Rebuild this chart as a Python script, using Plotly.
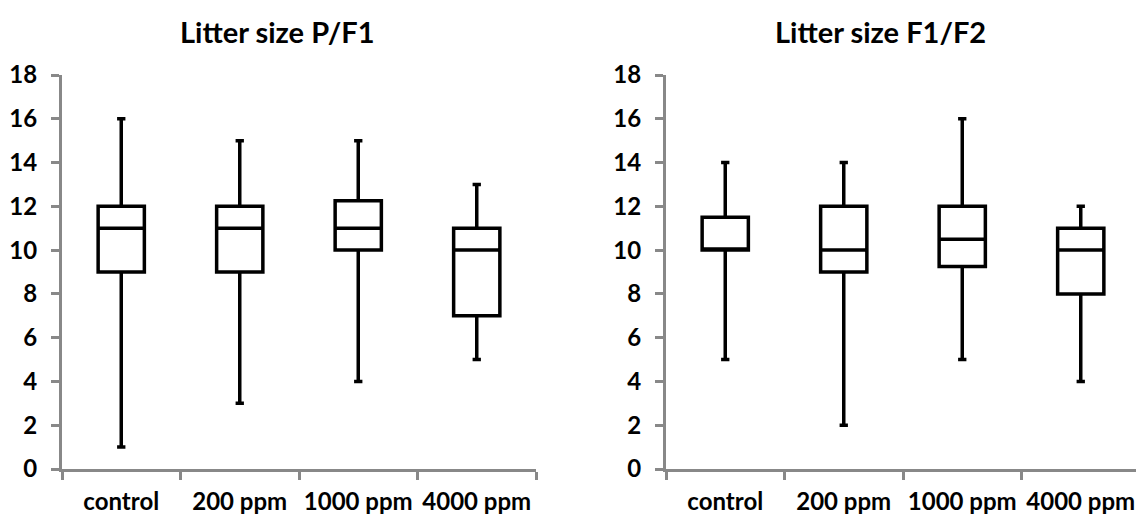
import plotly.graph_objects as go
from plotly.subplots import make_subplots

categories = ["control", "200 ppm", "1000 ppm", "4000 ppm"]

# Litter size P/F1
pf1_min = [1, 3, 4, 5]
pf1_q1 = [9, 9, 10, 7]
pf1_median = [11, 11, 11, 10]
pf1_q3 = [12, 12, 12.25, 11]
pf1_max = [16, 15, 15, 13]

# Litter size F1/F2
f1f2_min = [5, 2, 5, 4]
f1f2_q1 = [10, 9, 9.25, 8]
f1f2_median = [10, 10, 10.5, 10]
f1f2_q3 = [11.5, 12, 12, 11]
f1f2_max = [14, 14, 16, 12]

titles = ["Litter size P/F1", "Litter size F1/F2"]
y_ticks = [0, 2, 4, 6, 8, 10, 12, 14, 16, 18]

W, H = 1136, 514
T, B = 75, 45
PLOT_H = H - T - B
FONT = "Lato"
AXIS_GREY = "#888888"

fig = make_subplots(rows=1, cols=2)

for col, (lo, q1, med, q3, hi) in enumerate(
    [(pf1_min, pf1_q1, pf1_median, pf1_q3, pf1_max),
     (f1f2_min, f1f2_q1, f1f2_median, f1f2_q3, f1f2_max)], start=1):
    fig.add_trace(go.Box(
        x=categories, q1=q1, median=med, q3=q3,
        lowerfence=lo, upperfence=hi,
        width=0.39,
        line=dict(color="black", width=3.5),
        fillcolor="white",
        whiskerwidth=0.18,
        boxpoints=False,
        showlegend=False,
        hoverinfo="skip",
    ), row=1, col=col)

left_dom = [62 / W, 536 / W]
right_dom = [666 / W, 1.0]
cat_px = (536 - 62) / 4.0
right_end = -0.5 + (W - 666) / cat_px

common_x = dict(
    type="category",
    showline=True, linecolor=AXIS_GREY, linewidth=3,
    ticks="outside", tickson="boundaries", ticklen=8, tickwidth=3, tickcolor=AXIS_GREY,
    tickfont=dict(family=FONT, size=24, color="black", weight="bold"),
    tickangle=0, automargin=False,
    ticklabelstandoff=9,
    showgrid=False, zeroline=False, fixedrange=True,
)
common_y = dict(
    range=[0, 18], tickvals=y_ticks,
    showline=True, linecolor=AXIS_GREY, linewidth=3,
    ticks="outside", ticklen=8, tickwidth=3, tickcolor=AXIS_GREY,
    tickfont=dict(family=FONT, size=24, color="black", weight="bold"),
    automargin=False,
    ticklabelstandoff=9,
    showgrid=False, zeroline=False, fixedrange=True,
)

title_y = (H - B - 32) / PLOT_H

fig.update_layout(
    xaxis=dict(common_x, domain=left_dom, range=[-0.5, 3.5]),
    xaxis2=dict(common_x, domain=right_dom, range=[-0.5, right_end]),
    yaxis=dict(common_y),
    yaxis2=dict(common_y),
    width=W, height=H,
    margin=dict(l=0, r=0, t=T, b=B),
    paper_bgcolor="white", plot_bgcolor="white",
    annotations=[
        dict(text=titles[0], x=277 / W, y=title_y, xref="paper", yref="paper",
             showarrow=False, xanchor="center", yanchor="middle",
             font=dict(family=FONT, size=29, color="black", weight="bold")),
        dict(text=titles[1], x=880 / W, y=title_y, xref="paper", yref="paper",
             showarrow=False, xanchor="center", yanchor="middle",
             font=dict(family=FONT, size=29, color="black", weight="bold")),
    ],
)

fig.write_html("out.html", config={"displayModeBar": False},
               post_script="document.body.style.margin='0';")
